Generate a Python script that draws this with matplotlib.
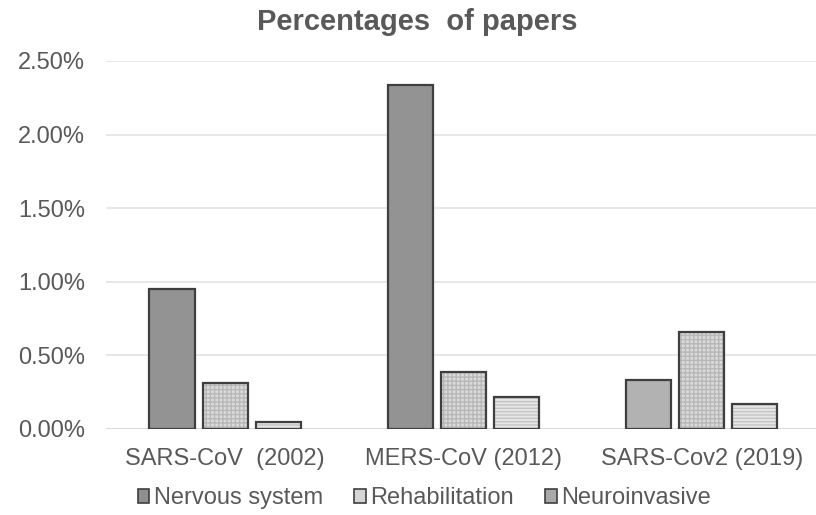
import matplotlib
matplotlib.use('Agg')
import matplotlib.pyplot as plt
import numpy as np
from matplotlib.patches import Patch

plt.rcParams['font.family'] = ['Liberation Sans', 'DejaVu Sans']

groups = ["SARS-CoV  (2002)", "MERS-CoV (2012)", "SARS-Cov2 (2019)"]
series = ["Nervous system", "Rehabilitation", "Neuroinvasive"]
nervous = [0.0095, 0.0234, 0.0033]
rehab = [0.0031, 0.0039, 0.0066]
neuro = [0.0005, 0.0022, 0.0017]
values = [nervous, rehab, neuro]

faces = [["#939393", "#939393", "#b2b2b2"], "#dadada", "#e6e6e6"]
hatches = [None, "++++", "-----"]
hatch_cols = ["#939393", "#b8b8b8", "#c4c4c4"]
legend_faces = ["#8f8f8f", "#d6d6d6", "#a8a8a8"]
edge = "#3f3f3f"
txt = "#595959"

fig = plt.figure(figsize=(8.16, 5.15), dpi=100)
ax = fig.add_axes([0.13, 0.167, 0.87, 0.7146])

x = np.arange(len(groups))
w = 0.19
step = 0.223
for i in range(len(series)):
    pos = x + (i - 1) * step
    ax.bar(pos, values[i], w, color=faces[i], hatch=hatches[i],
           edgecolor=hatch_cols[i], linewidth=0, zorder=2)
    ax.bar(pos, values[i], w, fill=False, edgecolor=edge, linewidth=1.6, zorder=3)

ax.set_xlim(-0.5, 2.48)
ax.set_ylim(0, 0.025)
ax.set_yticks(np.arange(0, 0.0251, 0.005))
ax.set_yticklabels(["%.2f%%" % (v * 100) for v in np.arange(0, 0.0251, 0.005)])
ax.set_xticks(x)
ax.set_xticklabels(groups)
ax.tick_params(axis='both', length=0, labelsize=17, colors=txt)
ax.tick_params(axis='y', pad=15)
ax.tick_params(axis='x', pad=14)
ax.grid(axis='y', color='#e3e3e3', linewidth=1.2, zorder=0)
ax.set_axisbelow(True)
for s in ax.spines.values():
    s.set_visible(False)
ax.axhline(0, color='#d9d9d9', linewidth=1.2, zorder=1)

fig.text(0.511, 0.958, "Percentages  of papers", ha='center', va='center',
         fontsize=21, fontweight='bold', color=txt)

handles = [Patch(facecolor=legend_faces[i], edgecolor=edge, linewidth=1.2) for i in range(3)]
fig.legend(handles, series, loc='center', bbox_to_anchor=(0.52, 0.033), ncol=3,
           frameon=False, fontsize=17, handlelength=0.5, handleheight=0.55,
           handletextpad=0.2, columnspacing=1.3, labelcolor=txt)

plt.savefig("out.png", dpi=100)
